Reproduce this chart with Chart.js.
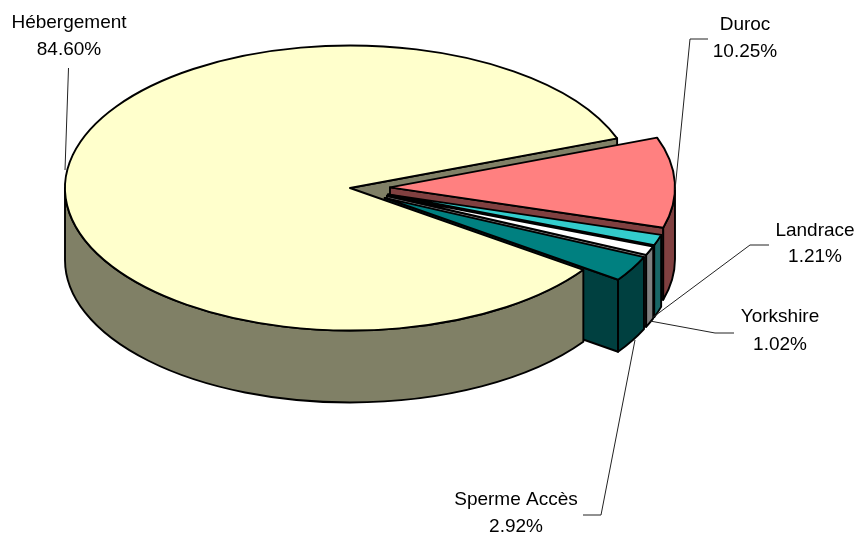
<!DOCTYPE html>
<html>
<head>
<meta charset="utf-8">
<script src="https://cdn.jsdelivr.net/npm/chart.js@4"></script>
<style>html,body{margin:0;padding:0;background:#fff}canvas{display:block}</style>
</head>
<body>
<canvas id="c" width="859" height="535"></canvas>
<script>
// Drawn clockwise from the Duroc slice; the unexploded Hébergement slice comes last so it paints on top.
const categories = ['Duroc', 'Landrace', 'Yorkshire', 'Sperme Accès', 'Hébergement'];
const values = [10.25, 1.21, 1.02, 2.92, 84.60];
const topColors = ['#FF8080', '#33CCCC', '#FFFFFF', '#008080', '#FFFFCC'];
const wallColors = ['#804040', '#196666', '#808080', '#004040', '#808066'];
const explode = [40, 40, 40, 40, 0];

// Label text centres and leader-line routes (layout only)
const labelPos = [[745, 25, 52], [815, 231, 257], [780, 317, 345], [516, 500, 527], [69, 23, 50]];
const leaders = [
  [[708, 39], [690, 39], [675, 190]],
  [[769, 245], [750, 245], [652, 318]],
  [[734, 333], [715, 333], [650, 321]],
  [[583, 515], [601, 515], [635, 340]],
  [[68.5, 68], [65, 170]]
];

const SQUASH = 0.5, DEPTH = 72, EDGE = 1.9;
const TAU = Math.PI * 2;

function geom(el) {
  const i = el.$context.dataIndex;
  const mid = (el.startAngle + el.endAngle) / 2;
  const ex = explode[i];
  return {
    i, R: el.outerRadius, a: el.startAngle, b: el.endAngle,
    cx: el.x + Math.cos(mid) * ex,
    cy: el.y + Math.sin(mid) * ex * SQUASH
  };
}
function paint(ctx, fill) {
  ctx.fillStyle = fill;
  ctx.fill();
  ctx.lineWidth = EDGE;
  ctx.strokeStyle = '#000';
  ctx.lineJoin = 'round';
  ctx.stroke();
}
function cutFace(ctx, g, t) {
  const x = g.cx + g.R * Math.cos(t), y = g.cy + g.R * SQUASH * Math.sin(t);
  ctx.beginPath();
  ctx.moveTo(g.cx, g.cy);
  ctx.lineTo(x, y);
  ctx.lineTo(x, y + DEPTH);
  ctx.lineTo(g.cx, g.cy + DEPTH);
  ctx.closePath();
  paint(ctx, wallColors[g.i]);
}
function cutFaces(ctx, g) {
  if (Math.cos(g.a) < 0) cutFace(ctx, g, g.a);
  if (Math.cos(g.b) > 0) cutFace(ctx, g, g.b);
}
function outerWall(ctx, g) {
  for (let k = -1; k <= 1; k++) {
    const t0 = Math.max(g.a, k * TAU), t1 = Math.min(g.b, k * TAU + Math.PI);
    if (t1 <= t0) continue;
    ctx.beginPath();
    ctx.ellipse(g.cx, g.cy, g.R, g.R * SQUASH, 0, t0, t1);
    ctx.ellipse(g.cx, g.cy + DEPTH, g.R, g.R * SQUASH, 0, t1, t0, true);
    ctx.closePath();
    paint(ctx, wallColors[g.i]);
  }
}

// Each arc element draws its walls, then its own top face squashed into perspective, then an even outline.
const ArcClass = Chart.registry.getElement('arc');
const baseDraw = ArcClass.prototype.draw;
ArcClass.prototype.draw = function (ctx) {
  const g = geom(this);
  if (explode[g.i] > 0) cutFaces(ctx, g);
  outerWall(ctx, g);
  ctx.save();
  ctx.translate(g.cx, g.cy);
  ctx.scale(1, SQUASH);
  ctx.translate(-this.x, -this.y);
  baseDraw.call(this, ctx);
  ctx.restore();
  ctx.beginPath();
  ctx.moveTo(g.cx, g.cy);
  ctx.ellipse(g.cx, g.cy, g.R, g.R * SQUASH, 0, g.a, g.b);
  ctx.closePath();
  ctx.lineWidth = EDGE;
  ctx.strokeStyle = '#000';
  ctx.lineJoin = 'round';
  ctx.stroke();
};

const pie3d = {
  id: 'pie3d',
  beforeDatasetsDraw(chart) {
    // Walls of the unexploded slice sit behind every exploded slice.
    chart.getDatasetMeta(0).data.forEach(el => {
      const g = geom(el);
      if (explode[g.i] === 0) cutFaces(chart.ctx, g);
    });
  },
  afterDatasetsDraw(chart) {
    const ctx = chart.ctx;
    ctx.save();
    ctx.lineWidth = 1;
    ctx.strokeStyle = '#222';
    leaders.forEach(pts => {
      ctx.beginPath();
      pts.forEach((p, i) => i ? ctx.lineTo(p[0], p[1]) : ctx.moveTo(p[0], p[1]));
      ctx.stroke();
    });
    ctx.fillStyle = '#000';
    ctx.font = '19px "Liberation Sans", Arial, sans-serif';
    ctx.textAlign = 'center';
    ctx.textBaseline = 'middle';
    categories.forEach((name, i) => {
      const [x, y1, y2] = labelPos[i];
      ctx.fillText(name, x, y1);
      ctx.fillText(values[i].toFixed(2) + '%', x, y2);
    });
    ctx.restore();
  }
};

new Chart(document.getElementById('c'), {
  type: 'pie',
  data: {
    labels: categories,
    datasets: [{ data: values, backgroundColor: topColors, borderWidth: 0 }]
  },
  options: {
    responsive: false,
    animation: false,
    rotation: 69.6,
    radius: 285,
    layout: { padding: { right: 159, bottom: 159 } },
    plugins: { legend: { display: false }, tooltip: { enabled: false } }
  },
  plugins: [pie3d]
});
</script>
</body>
</html>
